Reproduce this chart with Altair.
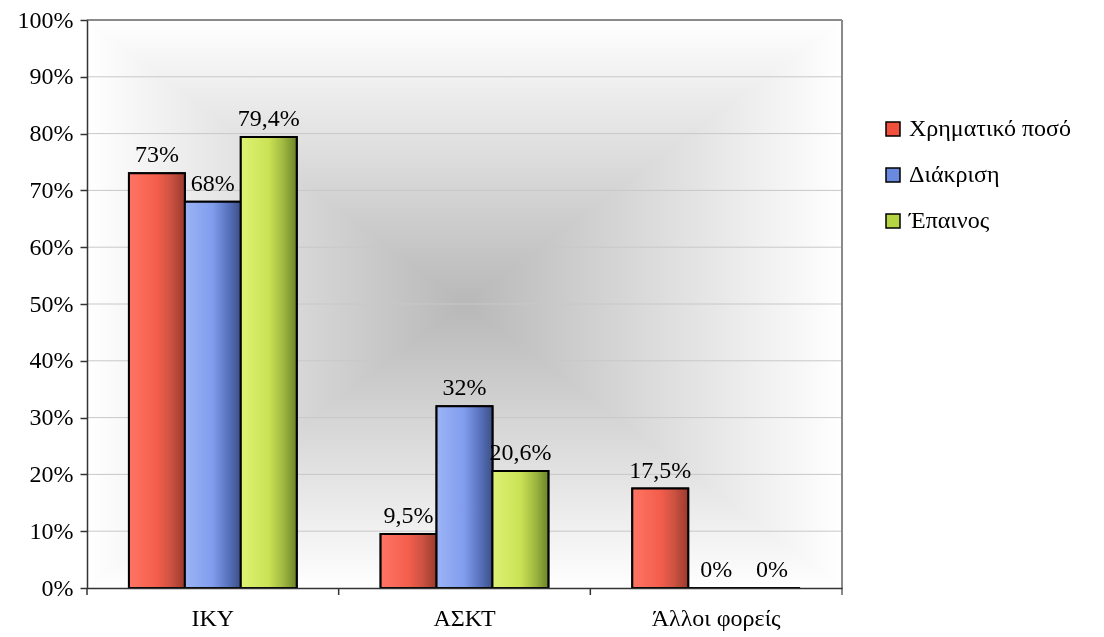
import altair as alt
import pandas as pd

categories = ["ΙΚΥ", "ΑΣΚΤ", "Άλλοι φορείς"]
series = ["Χρηματικό ποσό", "Διάκριση", "Έπαινος"]
money = [73.0, 9.5, 17.5]
distinction = [68.0, 32.0, 0.0]
praise = [79.4, 20.6, 0.0]
labels_money = ["73%", "9,5%", "17,5%"]
labels_distinction = ["68%", "32%", "0%"]
labels_praise = ["79,4%", "20,6%", "0%"]
y_ticks = [0.0, 0.1, 0.2, 0.3, 0.4, 0.5, 0.6, 0.7, 0.8, 0.9, 1.0]
colors = ["#f0503c", "#6a8ae0", "#b4d444"]

W, H = 755, 568
FONT = "Liberation Serif"
FS = 24

rows = []
for vals, labs, s in zip([money, distinction, praise],
                         [labels_money, labels_distinction, labels_praise], series):
    for c, v, l in zip(categories, vals, labs):
        rows.append({"cat": c, "series": s, "value": v / 100.0, "label": l})
df = pd.DataFrame(rows)


def lin(stops, horizontal=True):
    return {"gradient": "linear", "x1": 0, "y1": 0,
            "x2": 1 if horizontal else 0, "y2": 0 if horizontal else 1,
            "stops": [{"offset": o, "color": c} for o, c in stops]}


grads = {
    series[0]: lin([(0, "#ff7464"), (0.5, "#f45e4c"), (0.75, "#cc5242"), (1, "#9a3a2c")]),
    series[1]: lin([(0, "#9cb4f6"), (0.5, "#809cec"), (0.75, "#5c76c2"), (1, "#3c5088")]),
    series[2]: lin([(0, "#def274"), (0.5, "#cae254"), (0.75, "#a2ba42"), (1, "#6c8428")]),
}

one = pd.DataFrame({"k": [0]})
center_gray = "#b8b8b8"
bg_h = alt.Chart(one).mark_rect(
    fill=lin([(0, "#ffffff"), (0.5, center_gray), (1, "#ffffff")], True)
).encode(x=alt.value(0), x2=alt.value(W), y=alt.value(0), y2=alt.value(H))
bg_v = alt.Chart(one).mark_rect(
    fill=lin([(0, "#ffffff"), (0.5, center_gray), (1, "#ffffff")], False),
    blend="lighten"
).encode(x=alt.value(0), x2=alt.value(W), y=alt.value(0), y2=alt.value(H))

yscale = alt.Scale(domain=[0, 1], nice=False)
xscale = alt.Scale(paddingInner=0, paddingOuter=0)

yaxis = alt.Axis(title=None, format=".0%", values=y_ticks, grid=False,
                 tickSize=7, tickColor="#333333", tickWidth=1.5,
                 domainColor="#333333", domainWidth=1.5, labelFontSize=FS,
                 labelPadding=7, labelColor="#000000", labelFont=FONT, zindex=1)
xaxis = alt.Axis(title=None, ticks=False, labelAngle=0, labelFontSize=FS,
                 labelPadding=18, domainColor="#333333", domainWidth=1.5,
                 labelColor="#000000", labelFont=FONT, zindex=1)

grid = alt.Chart(pd.DataFrame({"value": y_ticks[1:-1]})).mark_rule(
    color="#c8c8c8", strokeWidth=1
).encode(y=alt.Y("value:Q", scale=yscale, axis=yaxis))
top_border = alt.Chart(pd.DataFrame({"value": y_ticks[-1:]})).mark_rule(
    color="#8a8a8a", strokeWidth=2
).encode(y=alt.Y("value:Q", scale=yscale, axis=yaxis))
right_border = alt.Chart(one).mark_rule(color="#8a8a8a", strokeWidth=2).encode(
    x=alt.value(W), y=alt.value(0), y2=alt.value(H + 7))
xticks = alt.Chart(pd.DataFrame({"cat": categories})).mark_rule(
    color="#333333", strokeWidth=1.5
).encode(x=alt.X("cat:N", sort=categories, scale=xscale, bandPosition=0, axis=xaxis),
         y=alt.value(H), y2=alt.value(H + 7))

base = alt.Chart(df).encode(
    x=alt.X("cat:N", sort=categories, scale=xscale, axis=xaxis),
    xOffset=alt.XOffset("series:N", sort=series,
                        scale=alt.Scale(paddingOuter=0.75, paddingInner=0)),
    y=alt.Y("value:Q", scale=yscale, axis=yaxis),
)

bars_legend = base.mark_bar(stroke="black", strokeWidth=2).encode(
    color=alt.Color("series:N", sort=series,
                    scale=alt.Scale(domain=series, range=colors),
                    legend=alt.Legend(title=None, orient="none", legendX=794,
                                      legendY=97, symbolType="square",
                                      symbolSize=196, symbolStrokeColor="black",
                                      symbolStrokeWidth=1.5, labelFontSize=FS,
                                      labelFont=FONT, labelColor="#000000",
                                      labelOffset=4, labelLimit=400,
                                      rowPadding=22, padding=0))
)
grad_layers = [
    base.transform_filter(alt.datum.series == s).mark_bar(
        fill=grads[s], stroke="black", strokeWidth=2)
    for s in series
]
texts = base.mark_text(baseline="alphabetic", dy=-11, fontSize=FS, font=FONT,
                       color="#000000").encode(text="label:N")

chart = alt.layer(bg_h, bg_v, grid, top_border, right_border, xticks,
                  bars_legend, *grad_layers, texts).properties(
    width=W, height=H,
    autosize=alt.AutoSizeParams(type="none"),
    padding={"left": 79, "top": 12, "right": 254, "bottom": 48},
).configure_view(stroke=None).configure(font=FONT)

chart.save("out.html", embed_options={"renderer": "svg", "actions": False})
